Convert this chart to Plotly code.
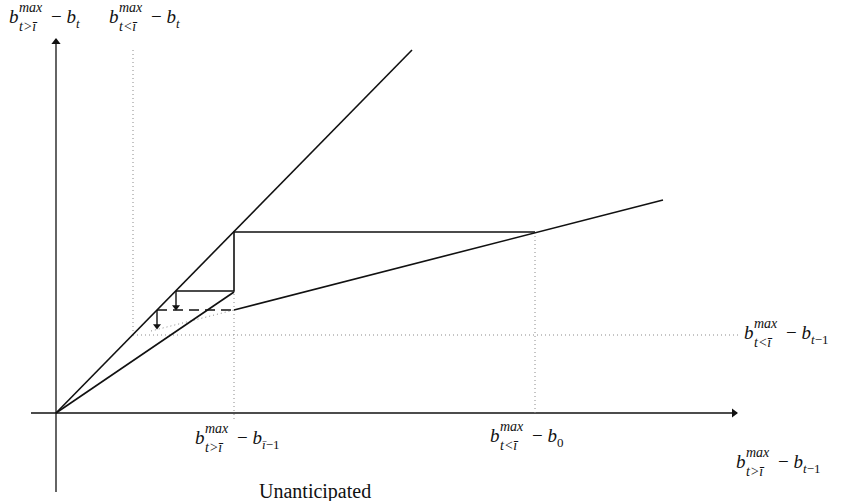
import plotly.graph_objects as go

# Diagram coordinates: origin where the axes cross, one unit = 100 px on both axes
X_RANGE = [-0.56, 7.90]
Y_RANGE = [-0.88, 4.13]

# Axes (with arrow tips)
xaxis_x = [-0.25, 6.81]
yaxis_y = [-0.79, 3.74]

# Key abscissae
x_pre = 0.77    # b^max_{t<ī} - b_{t-1}, on the 45-degree line
x_kink = 1.78   # b^max_{t>ī} - b_{ī-1}
x_zero = 4.79   # b^max_{t<ī} - b_0

# 45-degree line
diag_x = [0.0, 3.56]
diag_y = [0.0, 3.63]
# steep schedule from the origin up to the kink
low_x = [0.0, 1.78]
low_y = [0.0, 1.21]
# flat schedule beyond the kink
flat_x = [1.78, 6.07]
flat_y = [1.03, 2.13]
# its dotted continuation back towards the 45-degree line
flat_ext_x = [0.95, 1.78]
flat_ext_y = [0.82, 1.03]
# adjustment path: short step, jump at the kink, long horizontal
step_x = [1.20, 1.78, 1.78, 4.79]
step_y = [1.22, 1.22, 1.81, 1.81]
# dashed level
dash_x = [1.01, 1.78]
dash_y = [1.03, 1.03]
# downward arrows: x, tail y, head y
drop_x = [1.20, 1.01]
drop_tail = [1.22, 1.03]
drop_head = [1.06, 0.87]

# dotted guide lines
guide_v1_x, guide_v1_y = [0.77, 0.77], [0.78, 3.65]
guide_v2_x, guide_v2_y = [1.78, 1.78], [-0.06, 1.21]
guide_v3_x, guide_v3_y = [4.79, 4.79], [0.0, 1.81]
guide_h_x, guide_h_y = [0.77, 6.84], [0.78, 0.78]

BLACK = "#111111"
GUIDE = "#8a8a8a"
SERIF = "Liberation Serif"

fig = go.Figure()


def line(xs, ys, width=1.5, color=BLACK, dash="solid"):
    fig.add_trace(go.Scatter(x=xs, y=ys, mode="lines", hoverinfo="skip",
                             line=dict(color=color, width=width, dash=dash)))


def tip(x, y, symbol, size):
    fig.add_trace(go.Scatter(x=[x], y=[y], mode="markers", hoverinfo="skip",
                             marker=dict(symbol=symbol, size=size, color=BLACK,
                                         line=dict(width=0))))


# axes
line(xaxis_x, [0, 0], 1.3)
line([0, 0], yaxis_y, 1.3)
tip(xaxis_x[1] - 0.03, 0, "triangle-right", 8)
tip(0, yaxis_y[1] - 0.03, "triangle-up", 8)

# guides
for gx, gy in [(guide_v1_x, guide_v1_y), (guide_v2_x, guide_v2_y),
               (guide_v3_x, guide_v3_y), (guide_h_x, guide_h_y)]:
    line(gx, gy, 1.0, GUIDE, "1px,3px")
line(flat_ext_x, flat_ext_y, 1.0, GUIDE, "1px,3px")

# schedules and path
line(diag_x, diag_y, 1.6)
line(low_x, low_y, 1.6)
line(flat_x, flat_y, 1.6)
line(step_x, step_y, 1.6)
line(dash_x, dash_y, 1.4, BLACK, "10px,6px")

# small downward adjustment arrows
for dx, t, h in zip(drop_x, drop_tail, drop_head):
    line([dx, dx], [t, h], 1.4)
    tip(dx, h, "triangle-down", 7)

annotations = []


def font(size, italic=False):
    return dict(family=SERIF, size=size, color=BLACK,
                style="italic" if italic else "normal")


def math_label(x, y, sub, tail_sub, size=19, gap=42):
    """b^{max}_{sub} - b_{tail_sub}, with the scripts on b stacked."""
    base = dict(xref="x", yref="y", showarrow=False, xanchor="left",
                yanchor="middle", x=x, y=y)
    annotations.append(dict(base, text="b", font=font(size, True)))
    annotations.append(dict(base, text="max", xshift=10, yshift=9,
                            font=font(14, True)))
    annotations.append(dict(base, text=sub, xshift=10, yshift=-10,
                            font=font(14, True)))
    annotations.append(dict(base, xshift=gap, text="− <i>b</i>",
                            font=font(size)))
    annotations.append(dict(base, xshift=gap + 25, yshift=-7, text=tail_sub,
                            font=font(13)))


GT = "t&gt;ī"
LT = "t&lt;ī"

math_label(-0.49, 3.97, GT, "<i>t</i>")
math_label(0.51, 3.97, LT, "<i>t</i>")
math_label(1.37, -0.24, GT, "<i>ī</i>−1")
math_label(4.32, -0.22, LT, "0")
math_label(6.86, 0.81, LT, "<i>t</i>−1")
math_label(6.78, -0.48, GT, "<i>t</i>−1")

annotations.append(dict(x=2.59, y=-0.78, xref="x", yref="y", showarrow=False,
                        text="Unanticipated", xanchor="center", yanchor="middle",
                        font=font(20)))

fig.update_layout(
    width=846, height=501,
    margin=dict(l=0, r=0, t=0, b=0),
    paper_bgcolor="white", plot_bgcolor="white",
    showlegend=False,
    xaxis=dict(range=X_RANGE, visible=False, fixedrange=True),
    yaxis=dict(range=Y_RANGE, visible=False, fixedrange=True),
    annotations=annotations,
)

fig.write_html("out.html")
